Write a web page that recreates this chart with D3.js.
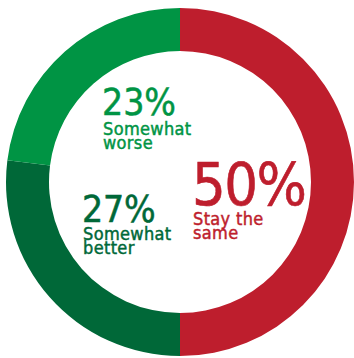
<!DOCTYPE html>
<html>
<head>
<meta charset="utf-8">
<script src="https://cdn.jsdelivr.net/npm/d3@7"></script>
<style>
  html, body { margin: 0; padding: 0; background: #ffffff; }
  svg { display: block; }
  text { font-family: "DejaVu Sans Condensed", "DejaVu Sans", sans-serif; }
</style>
</head>
<body>
<svg id="chart" width="354" height="358"></svg>
<script>
// Survey answers, in clockwise order from 12 o'clock
const categories = ["Stay the same", "Somewhat better", "Somewhat worse"];
const values = [50, 27, 23];
const labelLines = [["Stay the", "same"], ["Somewhat", "better"], ["Somewhat", "worse"]];
const colors = ["#be1e2d", "#006838", "#009444"];

const svg = d3.select("#chart");
const cx = 180, cy = 182;
const outerR = 174, innerR = 131;

const g = svg.append("g").attr("transform", `translate(${cx},${cy})`);

const pie = d3.pie().sort(null).value(d => d.value);
const arcs = pie(categories.map((c, i) => ({ name: c, value: values[i], color: colors[i], lines: labelLines[i] })));

const arc = d3.arc().innerRadius(innerR).outerRadius(outerR);

g.selectAll("path.slice")
  .data(arcs)
  .join("path")
  .attr("class", "slice")
  .attr("d", arc)
  .attr("fill", d => d.data.color);

// Label anchors (left edge of the big number, its baseline) relative to the centre
const labelPos = [
  { x: 12, y: 23, big: 59, ls: -1.5, first: 20 },
  { x: -98, y: 40, big: 37, ls: -0.2, first: 18 },
  { x: -78, y: -67, big: 37, ls: 0, first: 20 }
];
const lead = 14;

// Each label is one text block: the percentage, then its caption lines
const labels = g.selectAll("text.label")
  .data(arcs)
  .join("text")
  .attr("class", "label")
  .attr("transform", (d, i) => `translate(${labelPos[i].x},${labelPos[i].y})`)
  .attr("fill", d => d.data.color)
  .attr("stroke", d => d.data.color);

labels.append("tspan")
  .attr("x", 0)
  .attr("y", 0)
  .attr("font-size", (d, i) => labelPos[i].big)
  .attr("letter-spacing", (d, i) => labelPos[i].ls)
  .attr("stroke-width", (d, i) => i === 0 ? 0.6 : 0.5)
  .text(d => d.data.value + "%");

labels.each(function(d, i) {
  const p = labelPos[i];
  d.data.lines.forEach((line, k) => {
    d3.select(this).append("tspan")
      .attr("x", 1)
      .attr("y", p.first + k * lead)
      .attr("font-size", 18)
      .attr("stroke-width", 0.45)
      .attr("letter-spacing", 0.35)
      .text(line);
  });
});
</script>
</body>
</html>
